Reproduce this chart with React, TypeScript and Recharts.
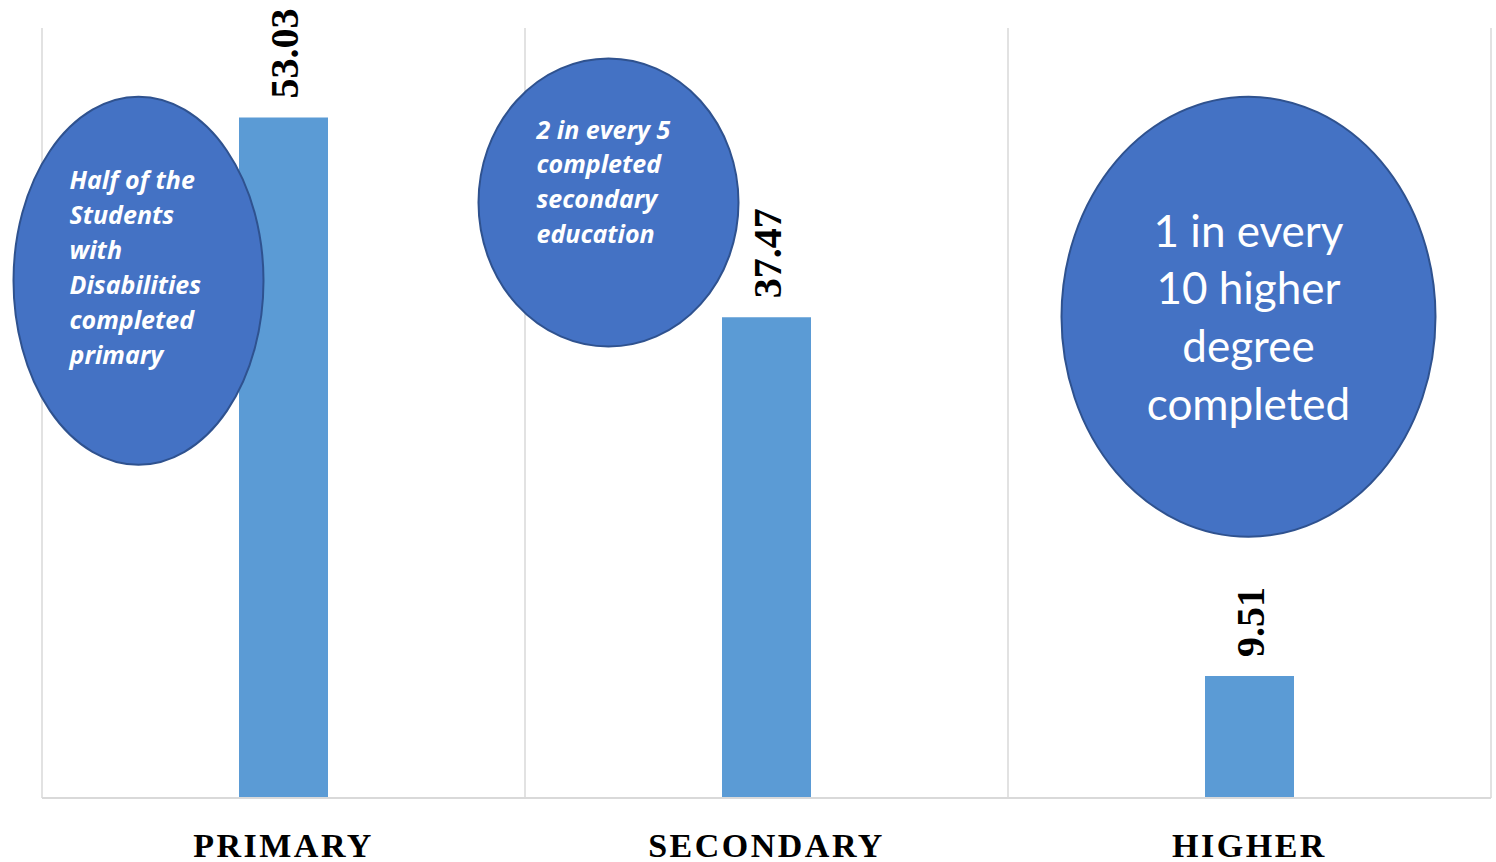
import React from 'react';
import { BarChart, Bar, XAxis, YAxis, CartesianGrid, LabelList, ReferenceDot } from 'recharts';

// completion rates of students with disabilities, by level
const categories = ['PRIMARY', 'SECONDARY', 'HIGHER'];
const values = [53.03, 37.47, 9.51];

// callout bubbles: which category they sit in, at what value level, and their text
const noteCategories = ['PRIMARY', 'SECONDARY', 'HIGHER'];
const noteLevels = [40.3, 46.4, 37.5];
const noteLines = [
  ['Half of the', 'Students', 'with', 'Disabilities', 'completed', 'primary'],
  ['2 in every 5', 'completed', 'secondary', 'education'],
  ['1 in every', '10 higher', 'degree', 'completed'],
];

const data = categories.map((c, i) => ({ level: c, value: values[i] }));

const SERIF = '"Liberation Serif", "Times New Roman", serif';
const SANS = 'Lato, "Noto Sans", sans-serif';
const SANS_WIDE = '"Open Sans", "Noto Sans", sans-serif';

// look of each bubble (shape offsets from its anchor + type)
const noteStyle = [
  { dx: -145, rx: 125, ry: 184, tx: -69, ty: -92, lh: 35, size: 25, italic: true, anchor: 'start', font: SANS_WIDE },
  { dx: -158, rx: 130, ry: 144, tx: -72, ty: -64, lh: 34.7, size: 25, italic: true, anchor: 'start', font: SANS_WIDE },
  { dx: -1, rx: 187, ry: 220, tx: 0, ty: -70, lh: 57.7, size: 44, italic: false, anchor: 'middle', font: SANS },
];

const makeNote = (idx: number) => (props: any) => {
  const { cx, cy } = props;
  const s = noteStyle[idx];
  const ex = cx + s.dx;
  return (
    <g>
      <ellipse cx={ex} cy={cy} rx={s.rx} ry={s.ry} fill="#4472C4" stroke="#2F528F" strokeWidth={2} />
      {noteLines[idx].map((line, k) => (
        <text
          key={k}
          x={ex + s.tx}
          y={cy + s.ty + k * s.lh}
          textAnchor={s.anchor}
          fill="#ffffff"
          fontFamily={s.font}
          fontSize={s.size}
          fontWeight={s.italic ? 700 : 400}
          fontStyle={s.italic ? 'italic' : 'normal'}
        >
          {line}
        </text>
      ))}
    </g>
  );
};

const ValueLabel = (props: any) => {
  const { x, y, width, value } = props;
  const lx = x + width / 2 + 15;
  const ly = y - 19;
  return (
    <text
      x={lx}
      y={ly}
      transform={`rotate(-90 ${lx} ${ly})`}
      textAnchor="start"
      fill="#000"
      fontFamily={SERIF}
      fontWeight={700}
      fontSize={40}
    >
      {value.toFixed(2)}
    </text>
  );
};

const CategoryTick = (props: any) => {
  const { x, y, payload } = props;
  return (
    <text
      x={x}
      y={y + 51}
      textAnchor="middle"
      fill="#000"
      fontFamily={SERIF}
      fontWeight={700}
      fontSize={34}
      letterSpacing={2.5}
    >
      {payload.value}
    </text>
  );
};

export default function App() {
  return (
    <div
      style={{
        position: 'fixed',
        left: 0,
        top: 0,
        width: 1496,
        height: 862,
        overflow: 'hidden',
        background: '#fff',
      }}
    >
      <BarChart
        width={1496}
        height={862}
        data={data}
        margin={{ top: 28, right: 5, left: 42, bottom: 0 }}
      >
        <CartesianGrid
          horizontal={false}
          stroke="#d9d9d9"
          strokeWidth={1.5}
          verticalCoordinatesGenerator={({ offset }: any) =>
            [0, 1, 2, 3].map((i) => offset.left + (i * offset.width) / 3)
          }
        />
        <XAxis
          dataKey="level"
          height={64}
          interval={0}
          tickLine={false}
          axisLine={{ stroke: '#d9d9d9', strokeWidth: 2 }}
          tick={<CategoryTick />}
        />
        <YAxis hide domain={[0, 60]} />
        <Bar dataKey="value" fill="#5B9BD5" barSize={89} isAnimationActive={false}>
          <LabelList dataKey="value" content={<ValueLabel />} />
        </Bar>
        {noteCategories.map((c, i) => (
          <ReferenceDot
            key={c}
            x={c}
            y={noteLevels[i]}
            ifOverflow="visible"
            shape={makeNote(i)}
          />
        ))}
      </BarChart>
    </div>
  );
}
